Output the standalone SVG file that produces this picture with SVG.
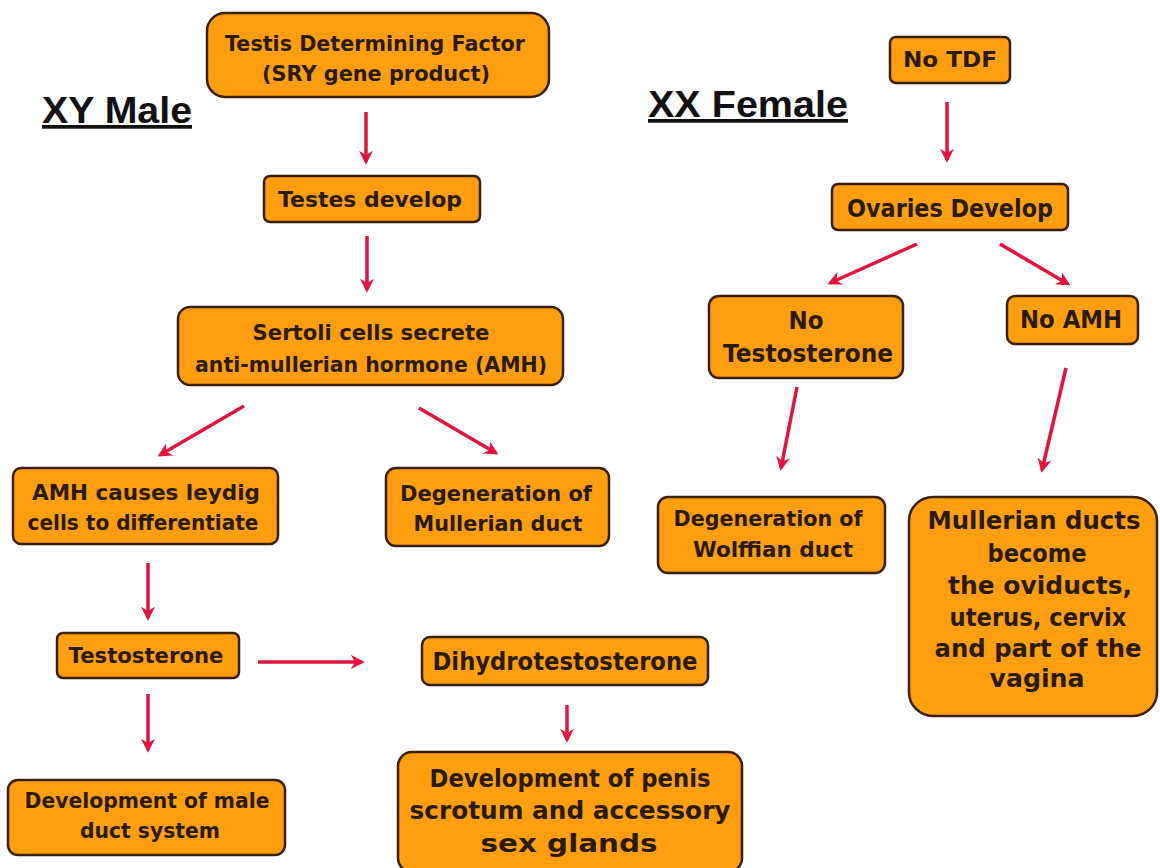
<svg xmlns="http://www.w3.org/2000/svg" width="1160" height="868" viewBox="0 0 1160 868">
<style>
.box{fill:#FF9F10;stroke:#3a2008;stroke-width:2.5}
.t{font-family:"DejaVu Sans","Liberation Sans",sans-serif;font-weight:bold;font-size:21px;fill:#2a1a08;text-anchor:middle}
.big{font-size:22px}
.xl{font-size:24px}
.title{font-family:"Liberation Sans",Arial,sans-serif;font-weight:bold;font-size:37px;fill:#111;text-decoration:underline}
.c line{stroke:#E0143C;stroke-width:3.5;marker-end:url(#ah)}
</style>
<defs>
<marker id="ah" viewBox="0 0 10 10" refX="8" refY="5" markerWidth="4" markerHeight="4" orient="auto" markerUnits="strokeWidth">
<path d="M0,0 L10,5 L0,10 L3,5 Z" fill="#E0143C"/>
</marker>
</defs>
<rect width="1160" height="868" fill="#fff"/>
<text class="title" x="42" y="123" textLength="150" lengthAdjust="spacingAndGlyphs">XY Male</text>
<text class="title" x="648" y="117" textLength="200" lengthAdjust="spacingAndGlyphs">XX Female</text>
<g class="c" id="connectors">
<line x1="366" y1="112" x2="366" y2="162"/>
<line x1="367" y1="236" x2="367" y2="290"/>
<line x1="244" y1="406" x2="160" y2="455"/>
<line x1="419" y1="408" x2="496" y2="453"/>
<line x1="148" y1="563" x2="148" y2="618"/>
<line x1="258" y1="662" x2="362" y2="662"/>
<line x1="148" y1="694" x2="148" y2="750"/>
<line x1="567" y1="705" x2="567" y2="740"/>
<line x1="947" y1="102" x2="947" y2="160"/>
<line x1="917" y1="244" x2="830" y2="283"/>
<line x1="1000" y1="244" x2="1068" y2="284"/>
<line x1="797" y1="387" x2="781" y2="468"/>
<line x1="1066" y1="368" x2="1042" y2="470"/>
</g>
<g id="n1"><rect class="box" x="207" y="13" width="342" height="84" rx="18"/><text class="t big" x="375" y="51" textLength="300" lengthAdjust="spacingAndGlyphs">Testis Determining Factor</text><text class="t big" x="376" y="81" textLength="228" lengthAdjust="spacingAndGlyphs">(SRY gene product)</text></g>
<g id="n2"><rect class="box" x="264" y="176" width="216" height="46" rx="6"/><text class="t big" x="370" y="207" textLength="184" lengthAdjust="spacingAndGlyphs">Testes develop</text></g>
<g id="n3"><rect class="box" x="178" y="307" width="385" height="78" rx="12"/><text class="t" x="371" y="340" textLength="237" lengthAdjust="spacingAndGlyphs">Sertoli cells secrete</text><text class="t" x="371" y="372" textLength="352" lengthAdjust="spacingAndGlyphs">anti-mullerian hormone (AMH)</text></g>
<g id="n4"><rect class="box" x="13" y="468" width="265" height="76" rx="8"/><text class="t" x="146" y="500" textLength="228" lengthAdjust="spacingAndGlyphs">AMH causes leydig</text><text class="t" x="143" y="530" textLength="231" lengthAdjust="spacingAndGlyphs">cells to differentiate</text></g>
<g id="n5"><rect class="box" x="386" y="468" width="223" height="78" rx="10"/><text class="t" x="496" y="501" textLength="192" lengthAdjust="spacingAndGlyphs">Degeneration of</text><text class="t" x="498" y="531" textLength="169" lengthAdjust="spacingAndGlyphs">Mullerian duct</text></g>
<g id="n6"><rect class="box" x="57" y="633" width="182" height="45" rx="6"/><text class="t big" x="146" y="663" textLength="155" lengthAdjust="spacingAndGlyphs">Testosterone</text></g>
<g id="n7"><rect class="box" x="422" y="637" width="286" height="48" rx="8"/><text class="t xl" x="565" y="670" textLength="265" lengthAdjust="spacingAndGlyphs">Dihydrotestosterone</text></g>
<g id="n8"><rect class="box" x="8" y="780" width="277" height="75" rx="10"/><text class="t" x="147" y="808" textLength="245" lengthAdjust="spacingAndGlyphs">Development of male</text><text class="t" x="150" y="838" textLength="140" lengthAdjust="spacingAndGlyphs">duct system</text></g>
<g id="n9"><rect class="box" x="398" y="752" width="344" height="120" rx="14"/><text class="t xl" x="570" y="787" textLength="281" lengthAdjust="spacingAndGlyphs">Development of penis</text><text class="t xl" x="570" y="819" textLength="321" lengthAdjust="spacingAndGlyphs">scrotum and accessory</text><text class="t xl" x="569" y="852" textLength="177" lengthAdjust="spacingAndGlyphs">sex glands</text></g>
<g id="n10"><rect class="box" x="890" y="37" width="120" height="46" rx="6"/><text class="t big" x="950" y="67" textLength="94" lengthAdjust="spacingAndGlyphs">No TDF</text></g>
<g id="n11"><rect class="box" x="832" y="184" width="236" height="46" rx="6"/><text class="t xl" x="950" y="217" textLength="206" lengthAdjust="spacingAndGlyphs">Ovaries Develop</text></g>
<g id="n12"><rect class="box" x="709" y="296" width="194" height="82" rx="10"/><text class="t xl" x="806" y="329" textLength="35" lengthAdjust="spacingAndGlyphs">No</text><text class="t xl" x="808" y="362" textLength="170" lengthAdjust="spacingAndGlyphs">Testosterone</text></g>
<g id="n13"><rect class="box" x="1007" y="296" width="131" height="48" rx="8"/><text class="t xl" x="1071" y="328" textLength="102" lengthAdjust="spacingAndGlyphs">No AMH</text></g>
<g id="n14"><rect class="box" x="658" y="497" width="227" height="76" rx="10"/><text class="t" x="768" y="526" textLength="189" lengthAdjust="spacingAndGlyphs">Degeneration of</text><text class="t" x="773" y="557" textLength="160" lengthAdjust="spacingAndGlyphs">Wolffian duct</text></g>
<g id="n15"><rect class="box" x="909" y="497" width="248" height="219" rx="24"/><text class="t xl" x="1034" y="529" textLength="213" lengthAdjust="spacingAndGlyphs">Mullerian ducts</text><text class="t xl" x="1037" y="562" textLength="99" lengthAdjust="spacingAndGlyphs">become</text><text class="t xl" x="1040" y="594" textLength="184" lengthAdjust="spacingAndGlyphs">the oviducts,</text><text class="t xl" x="1038" y="626" textLength="177" lengthAdjust="spacingAndGlyphs">uterus, cervix</text><text class="t xl" x="1038" y="657" textLength="207" lengthAdjust="spacingAndGlyphs">and part of the</text><text class="t xl" x="1037" y="687" textLength="95" lengthAdjust="spacingAndGlyphs">vagina</text></g>
</svg>
